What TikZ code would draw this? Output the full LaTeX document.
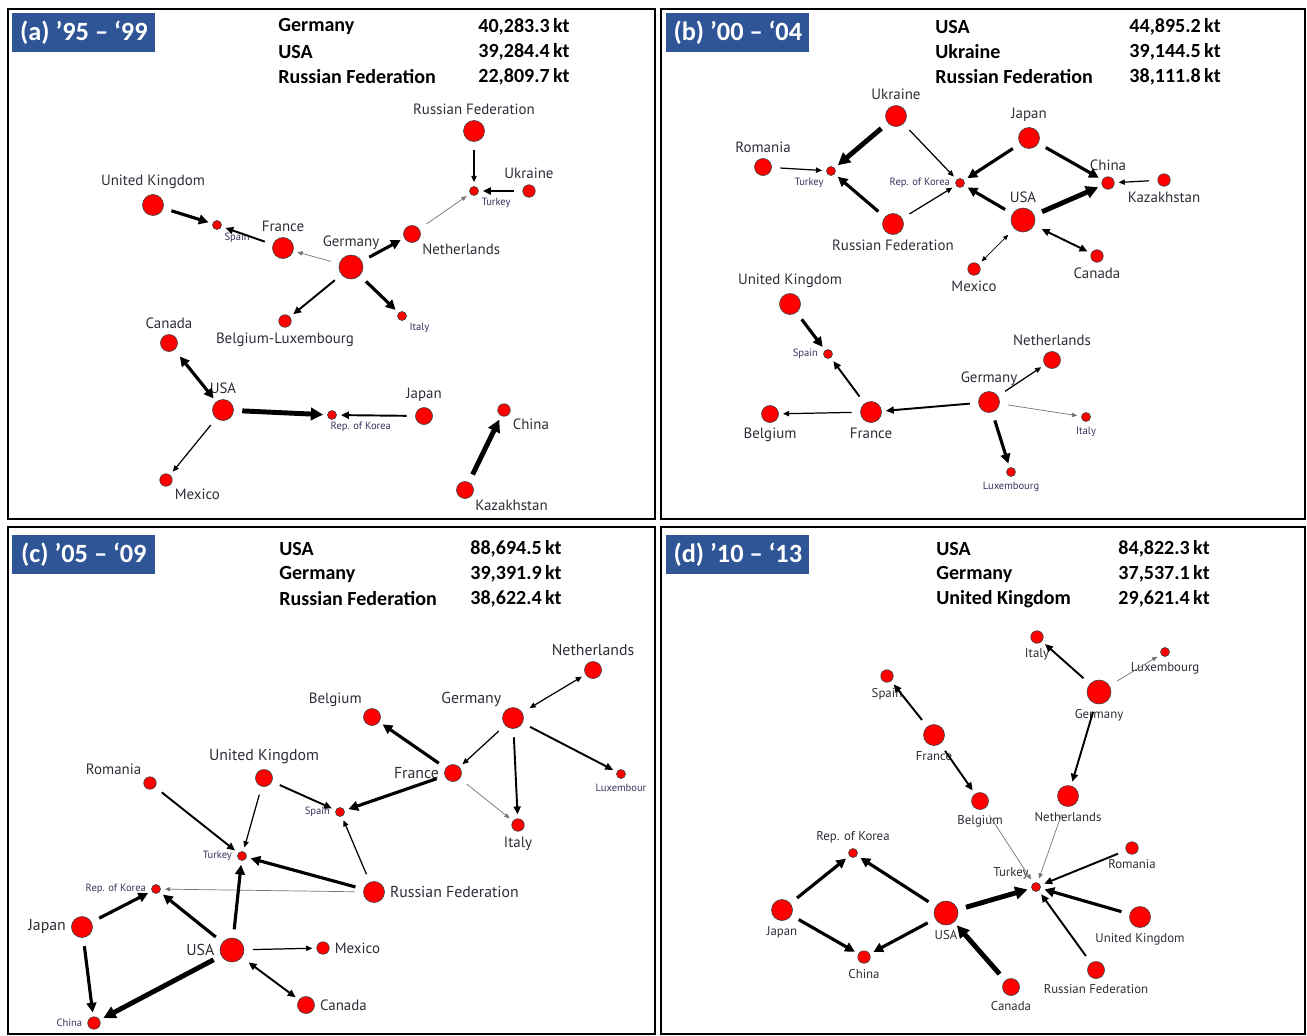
\documentclass[tikz,border=0pt]{standalone}
\usepackage{fontspec}
\setmainfont{Carlito}
\newfontfamily\lblfont{PT Sans}
\usetikzlibrary{arrows.meta, positioning}
\definecolor{panelblue}{RGB}{47,85,151}
\definecolor{lblgray}{RGB}{45,45,55}
\definecolor{lblnavy}{RGB}{55,50,95}
\tikzset{
    country/.style={circle, draw=black!75, fill=red, line width=0.35pt, inner sep=0pt, outer sep=1pt},
    nodeXL/.style={country, minimum size=0.48cm},
    nodeL/.style={country, minimum size=0.42cm},
    nodeM/.style={country, minimum size=0.34cm},
    nodeS/.style={country, minimum size=0.25cm},
    nodeXS/.style={country, minimum size=0.18cm},
    lbl/.style={font=\lblfont\fontsize{8.5}{10}\selectfont, text=lblgray, inner sep=0.5pt},
    lblbig/.style={font=\lblfont\fontsize{9}{11}\selectfont, text=lblgray, inner sep=0.5pt},
    lbld/.style={font=\lblfont\fontsize{7.3}{9}\selectfont, text=lblgray, inner sep=0.5pt},
    lblsmall/.style={font=\lblfont\fontsize{6}{7}\selectfont, text=lblnavy, inner sep=0.5pt},
    link/.style={->, shorten <=4pt, shorten >=1.5pt},
    hairarrow/.style={link, draw=black!55, line width=0.4pt, >={Triangle[length=3pt, width=2.4pt]}},
    thinarrow/.style={link, line width=0.7pt, >={Triangle[length=3.5pt, width=3pt]}},
    arrow/.style={link, line width=1.1pt, >={Triangle[length=4.5pt, width=4pt]}},
    boldarrow/.style={link, line width=1.8pt, >={Triangle[length=5.5pt, width=5.5pt]}},
    heavyarrow/.style={link, line width=2.8pt, >={Triangle[length=7pt, width=7pt]}},
    panel/.style={draw=black, line width=1.3pt},
    title/.style={fill=panelblue, text=white, font=\bfseries\fontsize{15}{17}\selectfont, anchor=north west, minimum width=2.86cm, minimum height=0.78cm, inner sep=0pt},
    head/.style={font=\bfseries\fontsize{11.4}{13}\selectfont, inner sep=0pt},
    headval/.style={font=\bfseries\fontsize{11.4}{13}\selectfont, inner sep=0pt},
}

\begin{document}
\begin{tikzpicture}[x=0.02cm, y=-0.02cm, label distance=1.5pt]
\useasboundingbox (0,0) rectangle (1307,1035);

% (a) 1995-1999
\draw[panel] (8,9) rectangle (655,519);
\node[title] (aTitle) at (12,13) {(a) ’95 – ‘99};
\node[head, anchor=west] (aN1) at (278,27) {Germany};
\node[head, anchor=west] (aN2) at (278,52) {USA};
\node[head, anchor=west] (aN3) at (278,77) {Russian Federation};
\node[headval, anchor=east] (aV1) at (570,27) {40,283.3\,kt};
\node[headval, anchor=east] (aV2) at (570,52) {39,284.4\,kt};
\node[headval, anchor=east] (aV3) at (570,77) {22,809.7\,kt};

\node[nodeL, label={[lbl]above:Russian Federation}] (aRus) at (474,131) {};
\node[nodeS, label={[lbl]above:Ukraine}] (aUkr) at (529,191) {};
\node[nodeXS, label={[lblsmall]below right:Turkey}] (aTur) at (474,191) {};
\node[nodeL, label={[lbl]above:United Kingdom}] (aUK) at (153,205) {};
\node[nodeXS, label={[lblsmall]below right:Spain}] (aSpa) at (217,225) {};
\node[nodeL, label={[lbl]above:France}] (aFra) at (283,248) {};
\node[nodeXL, label={[lbl]above:Germany}] (aGer) at (351,267) {};
\node[nodeM, label={[lbl]below right:Netherlands}] (aNet) at (412,234) {};
\node[nodeS, label={[lbl]below:Belgium-Luxembourg}] (aBel) at (285,321) {};
\node[nodeXS, label={[lblsmall]below right:Italy}] (aIta) at (402,316) {};
\node[nodeM, label={[lbl]above:Canada}] (aCan) at (169,343) {};
\node[nodeL, label={[lbl]above:USA}] (aUSA) at (223,410) {};
\node[nodeXS, label={[lblsmall, xshift=-5pt]below right:Rep. of Korea}] (aKor) at (332,415) {};
\node[nodeM, label={[lbl]above:Japan}] (aJap) at (424,416) {};
\node[nodeS, label={[lbl]below right:Mexico}] (aMex) at (166,480) {};
\node[nodeS, label={[lbl]below right:China}] (aChi) at (504,410) {};
\node[nodeM, label={[lbl]below right:Kazakhstan}] (aKaz) at (465,490) {};

\draw[thinarrow] (aRus) -- (aTur);
\draw[arrow] (aUkr) -- (aTur);
\draw[hairarrow] (aNet) -- (aTur);
\draw[boldarrow] (aUK) -- (aSpa);
\draw[arrow] (aFra) -- (aSpa);
\draw[hairarrow] (aGer) -- (aFra);
\draw[boldarrow] (aGer) -- (aNet);
\draw[arrow] (aGer) -- (aBel);
\draw[boldarrow] (aGer) -- (aIta);
\draw[boldarrow, <->] (aCan) -- (aUSA);
\draw[heavyarrow] (aUSA) -- (aKor);
\draw[arrow] (aJap) -- (aKor);
\draw[thinarrow] (aUSA) -- (aMex);
\draw[heavyarrow] (aKaz) -- (aChi);

% (b) 2000-2004
\draw[panel] (661,9) rectangle (1305,519);
\node[title] (bTitle) at (666,13) {(b) ’00 – ‘04};
\node[head, anchor=west] (bN1) at (935,27) {USA};
\node[head, anchor=west] (bN2) at (935,52) {Ukraine};
\node[head, anchor=west] (bN3) at (935,77) {Russian Federation};
\node[headval, anchor=east] (bV1) at (1221,27) {44,895.2\,kt};
\node[headval, anchor=east] (bV2) at (1221,52) {39,144.5\,kt};
\node[headval, anchor=east] (bV3) at (1221,77) {38,111.8\,kt};

\node[nodeL, label={[lbl]above:Ukraine}] (bUkr) at (896,116) {};
\node[nodeM, label={[lbl]above:Romania}] (bRom) at (763,167) {};
\node[nodeXS, label={[lblsmall]below left:Turkey}] (bTur) at (831,171) {};
\node[nodeXS, label={[lblsmall]left:Rep. of Korea}] (bKor) at (960,183) {};
\node[nodeL, label={[lbl]above:Japan}] (bJap) at (1029,138) {};
\node[nodeS, label={[lbl]above:China}] (bChi) at (1108,183) {};
\node[nodeS, label={[lbl]below:Kazakhstan}] (bKaz) at (1164,180) {};
\node[nodeXL, label={[lbl]above:USA}] (bUSA) at (1023,220) {};
\node[nodeL, label={[lbl]below:Russian Federation}] (bRus) at (893,224) {};
\node[nodeS, label={[lbl]below:Mexico}] (bMex) at (974,269) {};
\node[nodeS, label={[lbl]below:Canada}] (bCan) at (1097,256) {};
\node[nodeL, label={[lbl]above:United Kingdom}] (bUK) at (790,304) {};
\node[nodeXS, label={[lblsmall]left:Spain}] (bSpa) at (828,354) {};
\node[nodeM, label={[lbl]above:Netherlands}] (bNet) at (1052,360) {};
\node[nodeL, label={[lbl]above:Germany}] (bGer) at (989,402) {};
\node[nodeL, label={[lbl]below:France}] (bFra) at (871,412) {};
\node[nodeM, label={[lbl]below:Belgium}] (bBel) at (770,414) {};
\node[nodeXS, label={[lblsmall]below:Italy}] (bIta) at (1086,417) {};
\node[nodeXS, label={[lblsmall]below:Luxembourg}] (bLux) at (1011,472) {};

\draw[heavyarrow] (bUkr) -- (bTur);
\draw[thinarrow] (bUkr) -- (bKor);
\draw[thinarrow] (bRom) -- (bTur);
\draw[boldarrow] (bRus) -- (bTur);
\draw[thinarrow] (bRus) -- (bKor);
\draw[boldarrow] (bJap) -- (bKor);
\draw[boldarrow] (bJap) -- (bChi);
\draw[boldarrow] (bUSA) -- (bKor);
\draw[heavyarrow] (bUSA) -- (bChi);
\draw[thinarrow] (bKaz) -- (bChi);
\draw[hairarrow, draw=black, <->] (bUSA) -- (bMex);
\draw[arrow, <->] (bUSA) -- (bCan);
\draw[boldarrow] (bUK) -- (bSpa);
\draw[arrow] (bFra) -- (bSpa);
\draw[arrow] (bGer) -- (bFra);
\draw[thinarrow] (bFra) -- (bBel);
\draw[thinarrow] (bGer) -- (bNet);
\draw[hairarrow] (bGer) -- (bIta);
\draw[boldarrow] (bGer) -- (bLux);

% (c) 2005-2009
\draw[panel] (8,527) rectangle (655,1034);
\node[title] (cTitle) at (12,535) {(c) ’05 – ‘09};
\node[head, anchor=west] (cN1) at (279,549) {USA};
\node[head, anchor=west] (cN2) at (279,574) {Germany};
\node[head, anchor=west] (cN3) at (279,599) {Russian Federation};
\node[headval, anchor=east] (cV1) at (562,549) {88,694.5\,kt};
\node[headval, anchor=east] (cV2) at (562,574) {39,391.9\,kt};
\node[headval, anchor=east] (cV3) at (562,599) {38,622.4\,kt};

\node[nodeM, label={[lblbig]above:Netherlands}] (cNet) at (593,670) {};
\node[nodeL, label={[lblbig]above left:Germany}] (cGer) at (513,718) {};
\node[nodeM, label={[lbl]above left:Belgium}] (cBel) at (372,717) {};
\node[nodeM, label={[lblbig]above:United Kingdom}] (cUK) at (264,778) {};
\node[nodeS, label={[lbl]above left:Romania}] (cRom) at (150,783) {};
\node[nodeM, label={[lblbig]left:France}] (cFra) at (453,773) {};
\node[nodeXS, label={[lblsmall]below:Luxembour}] (cLux) at (621,774) {};
\node[nodeXS, label={[lblsmall]left:Spain}] (cSpa) at (340,812) {};
\node[nodeS, label={[lbl]below:Italy}] (cIta) at (518,825) {};
\node[nodeXS, label={[lblsmall]left:Turkey}] (cTur) at (242,856) {};
\node[nodeXS, label={[lblsmall]left:Rep. of Korea}] (cKor) at (156,889) {};
\node[nodeL, label={[lblbig]right:Russian Federation}] (cRus) at (374,892) {};
\node[nodeL, label={[lblbig]left:Japan}] (cJap) at (82,927) {};
\node[nodeXL, label={[lblbig]left:USA}] (cUSA) at (232,950) {};
\node[nodeS, label={[lbl]right:Mexico}] (cMex) at (323,948) {};
\node[nodeM, label={[lbl]right:Canada}] (cCan) at (306,1005) {};
\node[nodeS, label={[lblsmall]left:China}] (cChi) at (94,1023) {};

\draw[thinarrow, <->] (cGer) -- (cNet);
\draw[thinarrow] (cGer) -- (cFra);
\draw[arrow] (cGer) -- (cIta);
\draw[arrow] (cGer) -- (cLux);
\draw[boldarrow] (cFra) -- (cBel);
\draw[boldarrow] (cFra) -- (cSpa);
\draw[hairarrow] (cFra) -- (cIta);
\draw[arrow] (cUK) -- (cSpa);
\draw[thinarrow] (cUK) -- (cTur);
\draw[arrow] (cRom) -- (cTur);
\draw[boldarrow] (cRus) -- (cTur);
\draw[thinarrow] (cRus) -- (cSpa);
\draw[hairarrow] (cRus) -- (cKor);
\draw[boldarrow] (cUSA) -- (cTur);
\draw[boldarrow] (cUSA) -- (cKor);
\draw[boldarrow] (cJap) -- (cKor);
\draw[boldarrow] (cJap) -- (cChi);
\draw[heavyarrow] (cUSA) -- (cChi);
\draw[thinarrow] (cUSA) -- (cMex);
\draw[arrow, <->] (cUSA) -- (cCan);

% (d) 2010-2013
\draw[panel] (661,527) rectangle (1305,1034);
\node[title] (dTitle) at (666,535) {(d) ’10 – ‘13};
\node[head, anchor=west] (dN1) at (936,549) {USA};
\node[head, anchor=west] (dN2) at (936,574) {Germany};
\node[head, anchor=west] (dN3) at (936,599) {United Kingdom};
\node[headval, anchor=east] (dV1) at (1210,549) {84,822.3\,kt};
\node[headval, anchor=east] (dV2) at (1210,574) {37,537.1\,kt};
\node[headval, anchor=east] (dV3) at (1210,599) {29,621.4\,kt};

\node[nodeS, label={[lbld]below:Italy}] (dIta) at (1037,637) {};
\node[nodeXS, label={[lbld]below:Luxembourg}] (dLux) at (1165,652) {};
\node[nodeS, label={[lbld]below:Spain}] (dSpa) at (887,676) {};
\node[nodeXL, label={[lbld]below:Germany}] (dGer) at (1099,692) {};
\node[nodeL, label={[lbld]below:France}] (dFra) at (934,735) {};
\node[nodeM, label={[lbld]below:Belgium}] (dBel) at (980,801) {};
\node[nodeL, label={[lbld]below:Netherlands}] (dNet) at (1068,796) {};
\node[nodeXS, label={[lbld]above:Rep. of Korea}] (dKor) at (853,853) {};
\node[nodeS, label={[lbld]below:Romania}] (dRom) at (1132,848) {};
\node[nodeXS, label={[lbld]above left:Turkey}] (dTur) at (1036,887) {};
\node[nodeL, label={[lbld]below:Japan}] (dJap) at (782,910) {};
\node[nodeXL, label={[lbld]below:USA}] (dUSA) at (946,913) {};
\node[nodeL, label={[lbld]below:United Kingdom}] (dUK) at (1140,917) {};
\node[nodeS, label={[lbld]below:China}] (dChi) at (864,957) {};
\node[nodeM, label={[lbld]below:Russian Federation}] (dRus) at (1096,970) {};
\node[nodeM, label={[lbld]below:Canada}] (dCan) at (1011,987) {};

\draw[arrow] (dGer) -- (dIta);
\draw[hairarrow] (dGer) -- (dLux);
\draw[arrow] (dGer) -- (dNet);
\draw[arrow] (dFra) -- (dSpa);
\draw[arrow] (dFra) -- (dBel);
\draw[hairarrow] (dBel) -- (dTur);
\draw[hairarrow] (dNet) -- (dTur);
\draw[arrow] (dRom) -- (dTur);
\draw[boldarrow] (dUK) -- (dTur);
\draw[arrow] (dRus) -- (dTur);
\draw[heavyarrow] (dUSA) -- (dTur);
\draw[boldarrow] (dJap) -- (dKor);
\draw[boldarrow] (dUSA) -- (dKor);
\draw[boldarrow] (dJap) -- (dChi);
\draw[boldarrow] (dUSA) -- (dChi);
\draw[heavyarrow] (dCan) -- (dUSA);
\end{tikzpicture}
\end{document}
